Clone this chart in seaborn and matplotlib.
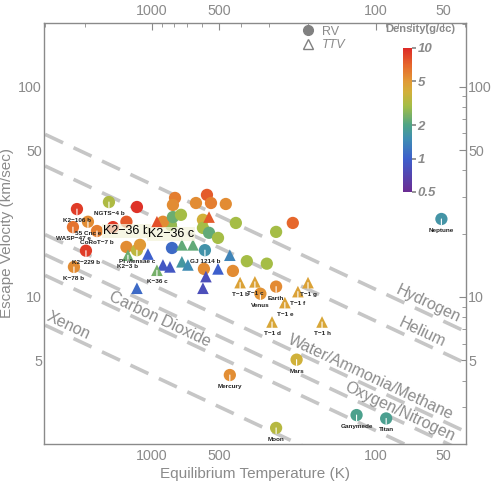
import numpy as np
import pandas as pd
import matplotlib
matplotlib.use("Agg")
import matplotlib.pyplot as plt
import seaborn as sns
from matplotlib.colors import LogNorm, LinearSegmentedColormap
from matplotlib.cm import ScalarMappable
from matplotlib.lines import Line2D
from matplotlib.ticker import FixedLocator, NullFormatter

# ---- data ----
# planets measured by radial velocity (circles)
rv_names = ["K2−106 b", "NGTS−4 b", "", "55 Cnc e", "WASP−47 e", "CoRoT−7 b", "K2−229 b", "K−78 b",
            "", "K2−36 b", "K2−36 c", "", "", "", "", "", "", "", "", "", "", "", "", "", "", "",
            "", "", "", "", "", "", "", "Pi Mensae c", "", "GJ 1214 b",
            "Neptune", "Earth", "Venus", "Mars", "Mercury", "Moon", "Ganymede", "Titan"]
rv_teq = [2162, 1556, 1167, 1931, 2253, 1760, 1971, 2230,
          1493, 1300, 823, 789, 806, 893, 806, 568, 636, 545, 468, 742, 592, 422, 235, 592, 556, 507,
          279, 377, 307, 586, 435, 814, 1300, 1167, 1131, 580,
          51, 279, 328, 226, 449, 279, 122, 90]
rv_vesc = [26.2, 28.3, 26.8, 22.8, 21.5, 20.6, 16.6, 13.9,
           21.5, 22.8, 22.0, 29.6, 27.4, 22.8, 24.0, 30.6, 28.0, 28.0, 27.7, 24.6, 23.3, 22.5, 22.5, 21.3, 20.2, 19.1,
           20.4, 14.8, 14.4, 13.6, 13.3, 17.1, 17.3, 16.7, 17.7, 16.7,
           23.5, 11.2, 10.36, 5.03, 4.25, 2.38, 2.74, 2.64]
rv_density = [9.0, 3.2, 9.5, 5.5, 6.5, 6.0, 9.0, 5.5,
              9.0, 7.5, 2.8, 6.0, 5.5, 5.5, 2.3, 7.5, 5.5, 6.0, 5.5, 3.0, 4.0, 3.0, 7.0, 3.0, 2.2, 3.0,
              3.0, 3.0, 3.0, 5.5, 5.5, 1.1, 5.5, 3.5, 5.0, 1.6,
              1.64, 5.51, 5.24, 3.93, 5.43, 3.34, 1.94, 1.88]

# planets measured by transit timing variations (triangles)
ttv_names = ["", "", "", "", "", "", "", "", "", "", "", "", "", "K−36 c", "K2−3 b", "",
             "T−1 b", "T−1 c", "T−1 d", "T−1 e", "T−1 f", "T−1 g", "T−1 h"]
ttv_teq = [950, 556, 735, 656, 449, 735, 691, 507, 574, 592, 1042, 893, 831, 950, 1280, 1167,
           404, 347, 291, 255, 223, 201, 174]
ttv_vesc = [22.8, 24.0, 17.7, 17.7, 15.8, 14.7, 14.2, 13.6, 12.5, 11.0, 16.0, 14.2, 13.9, 13.4, 15.8, 11.0,
            11.7, 11.8, 7.6, 9.4, 10.6, 11.7, 7.6]
ttv_density = [8.0, 7.5, 2.2, 2.2, 1.4, 1.7, 1.5, 1.0, 0.8, 0.8, 1.0, 0.9, 0.9, 2.4, 2.3, 1.1,
               4.6, 4.6, 4.4, 4.6, 4.6, 4.6, 4.4]

# gas retention lines: escape velocity at 3000 K and at 40 K
gas_names = ["Hydrogen", "Helium", "Water/Ammonia/Methane", "Oxygen/Nitrogen", "Carbon Dioxide", "Xenon"]
gas_v_hot = [59.4, 42.0, 19.8, 15.9, 12.67, 7.34]
gas_v_cold = [6.86, 4.85, 2.29, 1.83, 1.46, 0.848]
gas_label_teq = [58.6, 62.4, 105, 78, 921, 2371]

T_HOT, T_COLD = 3000, 40

big_labels = ["K2−36 b", "K2−36 c"]

rv_df = pd.DataFrame({"name": rv_names, "teq": rv_teq, "vesc": rv_vesc, "density": rv_density})
ttv_df = pd.DataFrame({"name": ttv_names, "teq": ttv_teq, "vesc": ttv_vesc, "density": ttv_density})

# ---- style ----
sns.set_theme(style="white")
plt.rcParams["font.family"] = ["Liberation Sans", "DejaVu Sans"]
grey = "#8a8a8a"

cmap = LinearSegmentedColormap.from_list("density", [
    (0.0, "#6b2c93"), (0.231, "#3d5fcc"), (0.367, "#3f8db3"), (0.463, "#4ea487"),
    (0.598, "#a4bd46"), (0.694, "#d2b03a"), (0.769, "#e19a36"), (0.88, "#e6682c"), (1.0, "#dd2a27")])
norm = LogNorm(0.5, 10)

fig = plt.figure(figsize=(4.91, 4.82), dpi=100)
ax = fig.add_axes([0.0896, 0.0788, 0.8595, 0.8741])
ax.set_xscale("log")
ax.set_yscale("log")
ax.set_xlim(3034, 39.6)
ax.set_ylim(1.995, 202)

# gas lines
for v_hot, v_cold in zip(gas_v_hot, gas_v_cold):
    ax.plot([T_HOT, T_COLD], [v_hot, v_cold], color="#c6c6c6", lw=2.6, dashes=(5.5, 3.2), zorder=1)

sns.scatterplot(data=rv_df, x="teq", y="vesc", hue="density", hue_norm=norm, palette=cmap,
                marker="o", s=78, linewidth=0, legend=False, ax=ax, zorder=3)
sns.scatterplot(data=ttv_df, x="teq", y="vesc", hue="density", hue_norm=norm, palette=cmap,
                marker="^", s=70, linewidth=0, legend=False, ax=ax, zorder=3)

# point labels with white stems
for df in (rv_df, ttv_df):
    for _, r in df.iterrows():
        if not r["name"]:
            continue
        if r["name"] in big_labels:
            ax.annotate(r["name"], xy=(r["teq"], r["vesc"]), xytext=(0, -6.5), textcoords="offset points",
                        ha="center", va="center", fontsize=9, color="black", zorder=6,
                        bbox=dict(boxstyle="square,pad=0.1", fc="#f4f4dc", ec="none", alpha=0.75))
            continue
        ax.annotate(r["name"], xy=(r["teq"], r["vesc"]), xytext=(0, -6.5), textcoords="offset points",
                    ha="center", va="top", fontsize=4.6, fontweight="bold", color="#222222", zorder=5,
                    arrowprops=dict(arrowstyle="-", color="white", lw=0.8, shrinkA=0, shrinkB=0))

# gas labels along the lines
fig.canvas.draw()
for name, v_hot, v_cold, t_lab in zip(gas_names, gas_v_hot, gas_v_cold, gas_label_teq):
    frac = np.log(T_HOT / t_lab) / np.log(T_HOT / T_COLD)
    v_lab = np.exp(np.log(v_hot) + frac * (np.log(v_cold) - np.log(v_hot)))
    p1 = ax.transData.transform((T_HOT, v_hot))
    p2 = ax.transData.transform((T_COLD, v_cold))
    ang = np.degrees(np.arctan2(p2[1] - p1[1], p2[0] - p1[0]))
    ax.annotate(name, xy=(t_lab, v_lab), xytext=(0, 7), textcoords="offset points",
                rotation=ang, rotation_mode="anchor", ha="center", va="center",
                fontsize=11.5, color="#8c8c8c", zorder=2)

# axes cosmetics
ax.xaxis.set_major_locator(FixedLocator([50, 100, 500, 1000]))
ax.yaxis.set_major_locator(FixedLocator([5, 10, 50, 100]))
ax.xaxis.set_major_formatter(plt.FuncFormatter(lambda v, p: f"{v:g}"))
ax.yaxis.set_major_formatter(plt.FuncFormatter(lambda v, p: f"{v:g}"))
ax.xaxis.set_minor_formatter(NullFormatter())
ax.yaxis.set_minor_formatter(NullFormatter())
ax.tick_params(which="both", direction="in", top=True, right=True, labeltop=True, labelright=True,
               color=grey, labelcolor=grey, labelsize=10.3)
ax.tick_params(which="major", length=5, width=0.8)
ax.tick_params(which="minor", length=3, width=0.6)
ax.tick_params(axis="y", which="major", pad=1.5)
for s in ax.spines.values():
    s.set_color(grey)
    s.set_linewidth(1.0)
ax.set_xlabel("Equilibrium Temperature (K)", color=grey, fontsize=11, labelpad=3)
ax.set_ylabel("Escape Velocity (km/sec)", color=grey, fontsize=11)
ax.yaxis.set_label_coords(-0.072, 0.5)

# legend
handles = [Line2D([], [], marker="o", color="#808080", ls="none", markersize=7),
           Line2D([], [], marker="^", markerfacecolor="none", markeredgecolor="#808080", ls="none", markersize=7)]
leg = ax.legend(handles, ["RV", "TTV"], loc="upper left", bbox_to_anchor=(0.585, 1.005), frameon=False,
                fontsize=9, handletextpad=0.1, labelspacing=0.15, borderaxespad=0)
for t in leg.get_texts():
    t.set_color(grey)
leg.get_texts()[1].set_style("italic")

# colorbar
cax = fig.add_axes([0.821, 0.6017, 0.0183, 0.2988])
cb = fig.colorbar(ScalarMappable(norm=norm, cmap=cmap), cax=cax)
cb.outline.set_visible(False)
cb.set_ticks([0.5, 1, 2, 5, 10])
cb.set_ticklabels(["0.5", "1", "2", "5", "10"])
cb.minorticks_off()
cax.tick_params(length=3, color=grey, labelcolor=grey, labelsize=9.5, pad=1)
for t in cax.get_yticklabels():
    t.set_fontweight("bold")
    t.set_style("italic")
fig.text(0.856, 0.94, "Density(g/cc)", ha="center", va="center", fontsize=8, fontweight="bold", color=grey)

fig.savefig("out.png", dpi=100)
